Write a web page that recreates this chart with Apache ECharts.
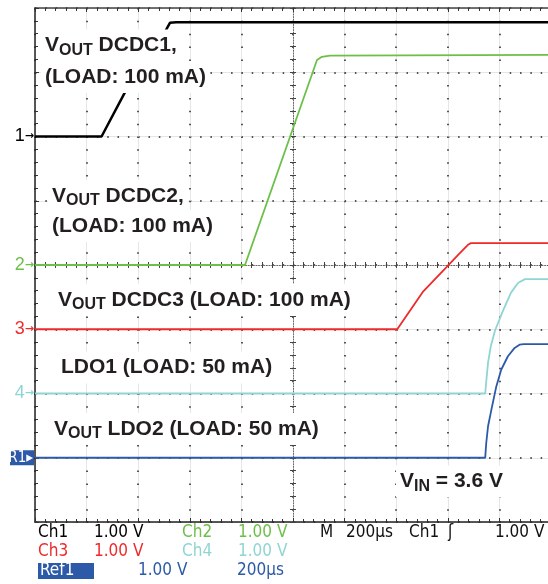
<!DOCTYPE html>
<html>
<head>
<meta charset="utf-8">
<script src="https://cdn.jsdelivr.net/npm/echarts@6/dist/echarts.min.js"></script>
<style>
html, body { margin: 0; padding: 0; background: #fff; }
#scope { width: 548px; height: 584px; }
</style>
</head>
<body>
<div id="scope"></div>
<script>
// time in µs from screen centre (200 µs/div), volts above each channel's ground marker (1 V/div)
var ch1 = [[-1000, 0], [-742, 0], [-651, 0.69], [-496, 1.63], [-477, 1.77], [-453, 1.78], [1000, 1.78]];
var ch2 = [[-1000, 0], [-186, 0], [93, 3.19], [112, 3.24], [143, 3.26], [1000, 3.27]];
var ch3 = [[-1000, 0], [404, 0], [505, 0.59], [596, 0.97], [641, 1.16], [680, 1.32], [690, 1.34], [1000, 1.34]];
var ch4 = [[-1000, 0], [745, 0], [750, 0.23], [756, 0.48], [767, 0.74], [783, 0.98], [814, 1.29], [845, 1.57], [872, 1.72], [899, 1.78], [1000, 1.78]];
var ref1 = [[-1000, 0], [745, 0], [749, 0.23], [756, 0.49], [769, 0.75], [788, 1.11], [807, 1.37], [833, 1.58], [859, 1.71], [878, 1.76], [895, 1.77], [1000, 1.77]];

var traces = [ch1, ch2, ch3, ch4, ref1];
var traceNames = ["Ch1", "Ch2", "Ch3", "Ch4", "Ref1"];
var offsets = [2, 0, -1, -2, -3];          // ground marker position in divisions
var markerLabels = ["1", "2", "3", "4", "R1"];
var colors = ["#000000", "#6cc04a", "#ee2a2a", "#8fd5d3", "#2c5aa8"];

var textColor = "#231f20";
var gridColor = "#555";

// annotation lines: [left, centre y, tokens]
var notes = [
  [45, 45.5, [["V", "m"], ["OUT", "s"], [" DCDC1,", "m"]]],
  [45, 77, [["(LOAD: 100 mA)", "m"]]],
  [52, 196, [["V", "m"], ["OUT", "s"], [" DCDC2,", "m"]]],
  [52, 226, [["(LOAD: 100 mA)", "m"]]],
  [58, 300, [["V", "m"], ["OUT", "s"], [" DCDC3 (LOAD: 100 mA)", "m"]]],
  [61, 367.5, [["LDO1 (LOAD: 50 mA)", "m"]]],
  [54, 429, [["V", "m"], ["OUT", "s"], [" LDO2 (LOAD: 50 mA)", "m"]]],
  [400, 481.5, [["V", "m"], ["IN", "s"], [" = 3.6 V", "m"]]]
];

// readout under the graticule: [left, centre y, text, color]
var readout = [
  [38, 533, "Ch1", "#000"], [94, 533, "1.00 V", "#000"],
  [182, 533, "Ch2", colors[1]], [238, 533, "1.00 V", colors[1]],
  [320, 533, "M", "#111"], [346, 533, "200µs", "#111"],
  [409, 533, "Ch1", "#111"], [448, 533, "ʃ", "#111"], [495, 533, "1.00 V", "#111"],
  [38, 552, "Ch3", colors[2]], [94, 552, "1.00 V", colors[2]],
  [182, 552, "Ch4", colors[3]], [238, 552, "1.00 V", colors[3]],
  [40, 571, "Ref1", "#fff"], [138, 571, "1.00 V", colors[4]], [237, 571, "200µs", colors[4]]
];

var myChart = echarts.init(document.getElementById("scope"));

var labelFont = '"Liberation Sans", Arial, sans-serif';
var scopeFont = '"DejaVu Sans Condensed", "Liberation Sans Narrow", "DejaVu Sans", sans-serif';

function frameX(pos, extra) {
  return Object.assign({
    type: "value", min: -1000, max: 1000, interval: 200, position: pos,
    axisLine: { onZero: false, lineStyle: { color: "#222", width: 1.5 } },
    axisTick: { show: true, inside: true, length: 4, lineStyle: { color: "#333" } },
    minorTick: { show: true, splitNumber: 5, length: 3, lineStyle: { color: "#333" } },
    axisLabel: { show: false },
    splitLine: { show: false }
  }, extra || {});
}
function frameY(pos, extra) {
  return Object.assign({
    type: "value", min: -4, max: 4, interval: 1, position: pos,
    axisLine: { onZero: false, lineStyle: { color: "#222", width: 1.5 } },
    axisTick: { show: true, inside: true, length: 4, lineStyle: { color: "#333" } },
    minorTick: { show: true, splitNumber: 5, length: 3, lineStyle: { color: "#333" } },
    axisLabel: { show: false },
    splitLine: { show: false }
  }, extra || {});
}
function centreLine(hidden) {
  return {
    onZero: true, onZeroAxisIndex: 0,
    lineStyle: { color: "#666", width: 1, type: [1, 1.6], opacity: hidden ? 0 : 1 }
  };
}
function centreTicks(inside) {
  return {
    axisTick: { show: true, inside: inside, length: 3, lineStyle: { color: "#444" } },
    minorTick: { show: true, splitNumber: 5, length: 3, lineStyle: { color: "#444" } }
  };
}

// faint solid graticule on the frame axes, dotted graticule on the spare centre axes
var xAxes = [
  frameX("bottom", {
    splitLine: { show: true, lineStyle: { color: "#e6e6e6", width: 1 } }
  }),
  frameX("top", { axisLine: { onZero: false, lineStyle: { color: "#444", width: 1.5 } } }),
  frameX("bottom", Object.assign({ axisLine: centreLine(false) }, centreTicks(false))),
  frameX("bottom", Object.assign({
    axisLine: centreLine(true),
    splitLine: { show: true, lineStyle: { color: gridColor, width: 2, type: [1.5, 11.35] } }
  }, centreTicks(true)))
];

var yAxes = [
  frameY("left", {
    splitLine: { show: true, lineStyle: { color: "#e6e6e6", width: 1 } }
  }),
  frameY("left", Object.assign({ axisLine: centreLine(false) }, centreTicks(false))),
  frameY("left", Object.assign({
    axisLine: centreLine(true),
    splitLine: { show: true, lineStyle: { color: gridColor, width: 2, type: [1.5, 8.82] } }
  }, centreTicks(true))),
  // channel ground markers
  {
    type: "value", min: -4, max: 4, interval: 1, position: "left",
    axisLine: { show: false, onZero: false },
    axisTick: { show: false },
    splitLine: { show: false },
    axisLabel: {
      show: true, margin: 1,
      formatter: function (v) {
        var i = offsets.indexOf(v);
        if (i < 0) return "";
        if (i === 4) return "{r|R1▸}";
        return "{n" + i + "|" + markerLabels[i] + "}{a" + i + "|→}";
      },
      rich: {
        n0: { color: colors[0], fontSize: 18, fontFamily: labelFont },
        n1: { color: colors[1], fontSize: 18, fontFamily: labelFont },
        n2: { color: colors[2], fontSize: 18, fontFamily: labelFont },
        n3: { color: colors[3], fontSize: 18, fontFamily: labelFont },
        a0: { color: colors[0], fontSize: 11, fontWeight: "bold", fontFamily: "DejaVu Sans" },
        a1: { color: colors[1], fontSize: 11, fontWeight: "bold", fontFamily: "DejaVu Sans" },
        a2: { color: colors[2], fontSize: 11, fontWeight: "bold", fontFamily: "DejaVu Sans" },
        a3: { color: colors[3], fontSize: 11, fontWeight: "bold", fontFamily: "DejaVu Sans" },
        r: { color: "#fff", backgroundColor: colors[4], fontSize: 15, lineHeight: 15, fontFamily: scopeFont, padding: [0, 1, 0, 2], width: 21 }
      }
    }
  }
];

var series = traces.map(function (tr, i) {
  return {
    name: traceNames[i],
    type: "line",
    xAxisIndex: 0,
    yAxisIndex: 0,
    showSymbol: false,
    silent: true,
    lineStyle: { color: colors[i], width: i === 0 ? 2.5 : 1.8 },
    data: tr.map(function (p) { return [p[0], p[1] + offsets[i]]; })
  };
});

var graphics = [];
notes.forEach(function (n) {
  var str = n[2].map(function (t) { return "{" + t[1] + "|" + t[0] + "}"; }).join("");
  graphics.push({
    type: "text", x: n[0] - 4, y: n[1], z: 100,
    style: {
      text: str,
      verticalAlign: "middle", textVerticalAlign: "middle",
      backgroundColor: "#fff", padding: [3, 4, 3, 4],
      rich: {
        m: { fill: textColor, fontSize: 21, fontWeight: "bold", fontFamily: labelFont, lineHeight: 26 },
        s: { fill: textColor, fontSize: 16, fontWeight: "bold", fontFamily: labelFont, lineHeight: 10, verticalAlign: "bottom" }
      }
    }
  });
});
graphics.push({
  type: "rect", z: 99,
  shape: { x: 38, y: 563, width: 56, height: 16 },
  style: { fill: colors[4] }
});
readout.forEach(function (r) {
  graphics.push({
    type: "text", x: r[0], y: r[1], z: 100,
    style: {
      text: r[2], fill: r[3],
      font: "17px " + scopeFont,
      verticalAlign: "middle", textVerticalAlign: "middle"
    }
  });
});

var option = {
  backgroundColor: "#fff",
  animation: false,
  grid: { left: 35, top: 8, width: 516, height: 514, containLabel: false, outerBoundsMode: "none" },
  xAxis: xAxes,
  yAxis: yAxes,
  series: series,
  graphic: graphics
};

myChart.setOption(option);
</script>
</body>
</html>
